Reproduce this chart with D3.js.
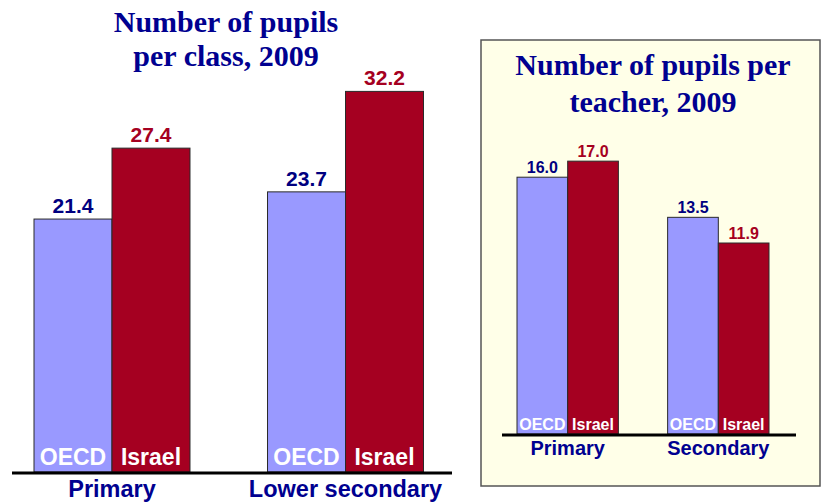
<!DOCTYPE html>
<html><head><meta charset="utf-8">
<script src="https://cdn.jsdelivr.net/npm/d3@7"></script>
<style>body{margin:0;background:#fff}svg{display:block}</style>
</head><body>
<svg id="c" width="827" height="504"></svg>
<script>
const series = ["OECD", "Israel"];
const classCats = ["Primary", "Lower secondary"];
const classOECD = [21.4, 23.7];
const classIsrael = [27.4, 32.2];
const teacherCats = ["Primary", "Secondary"];
const teacherOECD = [16.0, 13.5];
const teacherIsrael = [17.0, 11.9];
const titleClass = ["Number of pupils", "per class, 2009"];
const titleTeacher = ["Number of pupils per", "teacher, 2009"];

const fill = {OECD: "#9999FF", Israel: "#A50021"};
const labelCol = {OECD: "#000080", Israel: "#A50021"};
const navy = "#000090";
const svg = d3.select("#c");

// right panel background
svg.append("rect").attr("x", 481).attr("y", 40).attr("width", 339).attr("height", 446)
  .attr("fill", "#FFFFE8").attr("stroke", "#555").attr("stroke-width", 1.5);

function chart(o) {
  const g = svg.append("g");
  const x0 = d3.scaleBand().domain(o.cats).range(o.xr).paddingInner(o.pad).paddingOuter(0);
  const x1 = d3.scaleBand().domain(series).range([0, x0.bandwidth()]);
  const y = d3.scaleLinear().domain(o.yd).range(o.yr);
  const rows = o.cats.map((c, i) => ({cat: c, vals: [
    {s: "OECD", v: o.oecd[i]}, {s: "Israel", v: o.israel[i]}]}));
  const grp = g.selectAll("g.grp").data(rows).join("g")
    .attr("transform", d => `translate(${x0(d.cat)},0)`);
  const bars = grp.selectAll("g.bar").data(d => d.vals).join("g");
  bars.append("rect")
    .attr("x", d => x1(d.s)).attr("width", x1.bandwidth())
    .attr("y", d => y(d.v)).attr("height", d => y(0) - y(d.v))
    .attr("fill", d => fill[d.s]).attr("stroke", "#2a2a2a").attr("stroke-width", 1);
  bars.append("text")
    .attr("x", d => x1(d.s) + x1.bandwidth() / 2).attr("y", d => y(d.v) - o.vgap)
    .attr("text-anchor", "middle").attr("font-family", "Arial, 'Liberation Sans', sans-serif")
    .attr("font-weight", "bold").attr("font-size", o.vfs).attr("fill", d => labelCol[d.s])
    .text(d => d3.format(".1f")(d.v));
  bars.append("text")
    .attr("x", d => x1(d.s) + x1.bandwidth() / 2).attr("y", y(0) - o.igap)
    .attr("text-anchor", "middle").attr("font-family", "Arial, 'Liberation Sans', sans-serif")
    .attr("font-weight", "bold").attr("font-size", o.ifs).attr("fill", "#fff")
    .text(d => d.s);
  g.append("line").attr("x1", o.ax[0]).attr("x2", o.ax[1]).attr("y1", y(0) + 1).attr("y2", y(0) + 1)
    .attr("stroke", "#000").attr("stroke-width", 3);
  g.selectAll("text.cat").data(o.cats).join("text")
    .attr("x", d => x0(d) + x0.bandwidth() / 2).attr("y", o.cy)
    .attr("text-anchor", "middle").attr("font-family", "Arial, 'Liberation Sans', sans-serif")
    .attr("font-weight", "bold").attr("font-size", o.cfs).attr("fill", navy).text(d => d);
  g.selectAll("text.title").data(o.title).join("text")
    .attr("x", o.tx).attr("y", (d, i) => o.ty + i * o.tl)
    .attr("text-anchor", "middle").attr("font-family", "'Times New Roman', 'Liberation Serif', serif")
    .attr("font-weight", "bold").attr("font-size", o.tfs).attr("fill", navy).text(d => d);
}

chart({cats: classCats, oecd: classOECD, israel: classIsrael,
  xr: [34, 423.5], pad: 0.332, yd: [0, 35], yr: [472, 58.3],
  vgap: 6, vfs: 21, igap: 7, ifs: 23, ax: [12, 452], cy: 497, cfs: 23.5,
  title: titleClass, tx: 226, ty: 32, tl: 34, tfs: 30});

chart({cats: teacherCats, oecd: teacherOECD, israel: teacherIsrael,
  xr: [517, 769], pad: 0.327, yd: [0, 20], yr: [434, 113],
  vgap: 4, vfs: 16, igap: 4, ifs: 16, ax: [502, 796], cy: 455, cfs: 20,
  title: titleTeacher, tx: 653, ty: 75, tl: 37, tfs: 30});
</script>
</body></html>
